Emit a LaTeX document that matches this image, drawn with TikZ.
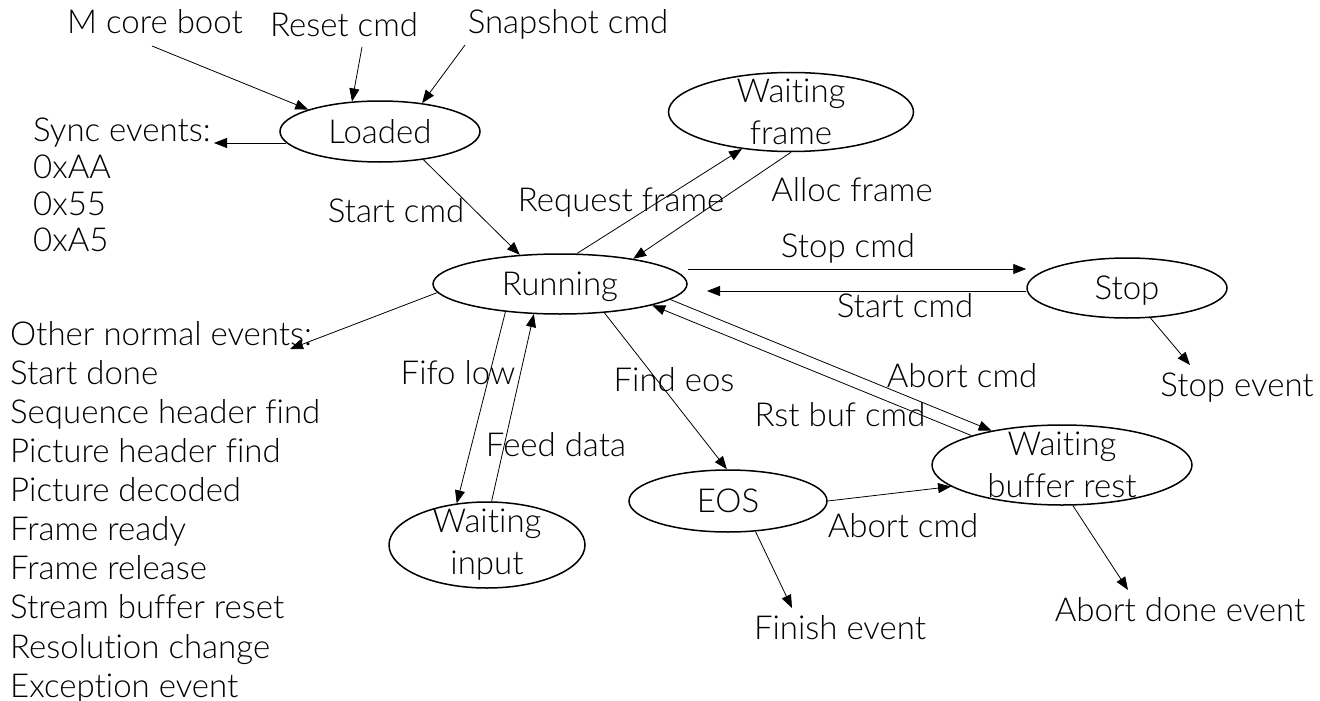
\documentclass[tikz,border=0pt]{standalone}
\usepackage{fontspec}
\setmainfont{Lato Light}[Ligatures=NoCommon]
\usetikzlibrary{shapes.geometric,arrows.meta}
\begin{document}
\begin{tikzpicture}[x=1pt,y=-1pt,
  every node/.style={inner sep=0pt, font=\fontsize{33}{42}\selectfont},
  state/.style={draw, ellipse, line width=1.5pt, align=center},
  one/.style={text height=23.5pt, text depth=0pt},
  lst/.style={anchor=north west, align=left},
  arr/.style={line width=0.8pt, -{Triangle[length=13pt,width=10pt]}}]
\useasboundingbox[fill=white] (0,0) rectangle (1320,701);

% states
\node[state, one, minimum width=200pt, minimum height=61pt] (loaded) at (380,131.5) {Loaded};
\node[state, inner ysep=-7pt, minimum width=245pt, minimum height=79pt] (wframe) at (791,112) {Waiting\\frame};
\node[state, one, minimum width=254pt, minimum height=60pt] (running) at (560,284) {Running};
\node[state, one, minimum width=200pt, minimum height=60pt] (stop) at (1127,288) {Stop};
\node[state, one, minimum width=198pt, minimum height=62pt] (eos) at (728,501) {EOS};
\node[state, inner ysep=-7pt, minimum width=196pt, minimum height=86pt] (winput) at (487,545) {Waiting\\input};
\node[state, inner ysep=-7pt, minimum width=260pt, minimum height=80pt] (wbuf) at (1062,465) {Waiting\\buffer rest};

% labels
\node[one] (mcore) at (155,22) {M core boot};
\node[one] (reset) at (344,25) {Reset cmd};
\node[one] (snap) at (568,22) {Snapshot cmd};
\node[one] (lstart) at (396,211) {Start cmd};
\node[one] (lreq) at (621,200) {Request frame};
\node[one] (lalloc) at (852,190) {Alloc frame};
\node[one] (lstop) at (848,246) {Stop cmd};
\node[one] (lstart2) at (905,306) {Start cmd};
\node[one] (lfifo) at (458,373) {Fifo low};
\node[one] (lfeed) at (556,445) {Feed data};
\node[one] (leos) at (674,380) {Find eos};
\node[one] (labort) at (962,376) {Abort cmd};
\node[one] (lrst) at (840,415) {Rst buf cmd};
\node[one] (stopev) at (1237,385) {Stop event};
\node[one] (labort2) at (903,526) {Abort cmd};
\node[one] (finish) at (840,628) {Finish event};
\node[one] (abortdone) at (1180,610) {Abort done event};

\node[lst, font=\fontsize{33}{36.7}\selectfont] (sync) at (33,118) {Sync events:\\0xAA\\0x55\\0xA5};
\node[lst, font=\fontsize{33}{39.1}\selectfont] (other) at (10,321) {Other normal events:\\Start done\\Sequence header find\\Picture header find\\Picture decoded\\Frame ready\\Frame release\\Stream buffer reset\\Resolution change\\Exception event};

% free ends
\coordinate (mcS) at (152,46);
\coordinate (rsS) at (362,47);
\coordinate (snS) at (465,45);
\coordinate (syncE) at (214,143);
\coordinate (otherE) at (290,349);
\coordinate (finE) at (792,608);
\coordinate (stopE) at (1190,365);
\coordinate (abE) at (1128,590);
\coordinate (backE) at (707,291);
\coordinate (sc1) at ([yshift=15pt]running.east);
\coordinate (sc2) at ([yshift=-3pt]stop.west);
\coordinate (lo1) at (loaded.187);

% connectors
\draw[arr] (mcS) -- (loaded.163);
\draw[arr] (rsS) -- (loaded.133);
\draw[arr] (snS) -- (loaded.34);
\draw[arr] (lo1) -- (lo1 -| syncE);
\draw[arr] (loaded.327) -- (running.144);
\draw[arr] (running.61) -- (wframe.217);
\draw[arr] (wframe.270) -- (running.19);
\draw[arr] (sc1) -- (sc1 -| stop.west);
\draw[arr] (sc2) -- (sc2 -| backE);
\draw[arr] (running.184) -- (otherE);
\draw[arr] (running.207) -- (winput.126);
\draw[arr] (winput.84) -- (running.229);
\draw[arr] (running.327) -- (eos.92);
\draw[arr] (running.352) -- (wbuf.154);
\draw[arr] (wbuf.162) -- (running.347);
\draw[arr] (eos.0) -- (wbuf.191);
\draw[arr] (eos.312) -- (finE);
\draw[arr] (stop.308) -- (stopE);
\draw[arr] (wbuf.285) -- (abE);
\end{tikzpicture}
\end{document}
